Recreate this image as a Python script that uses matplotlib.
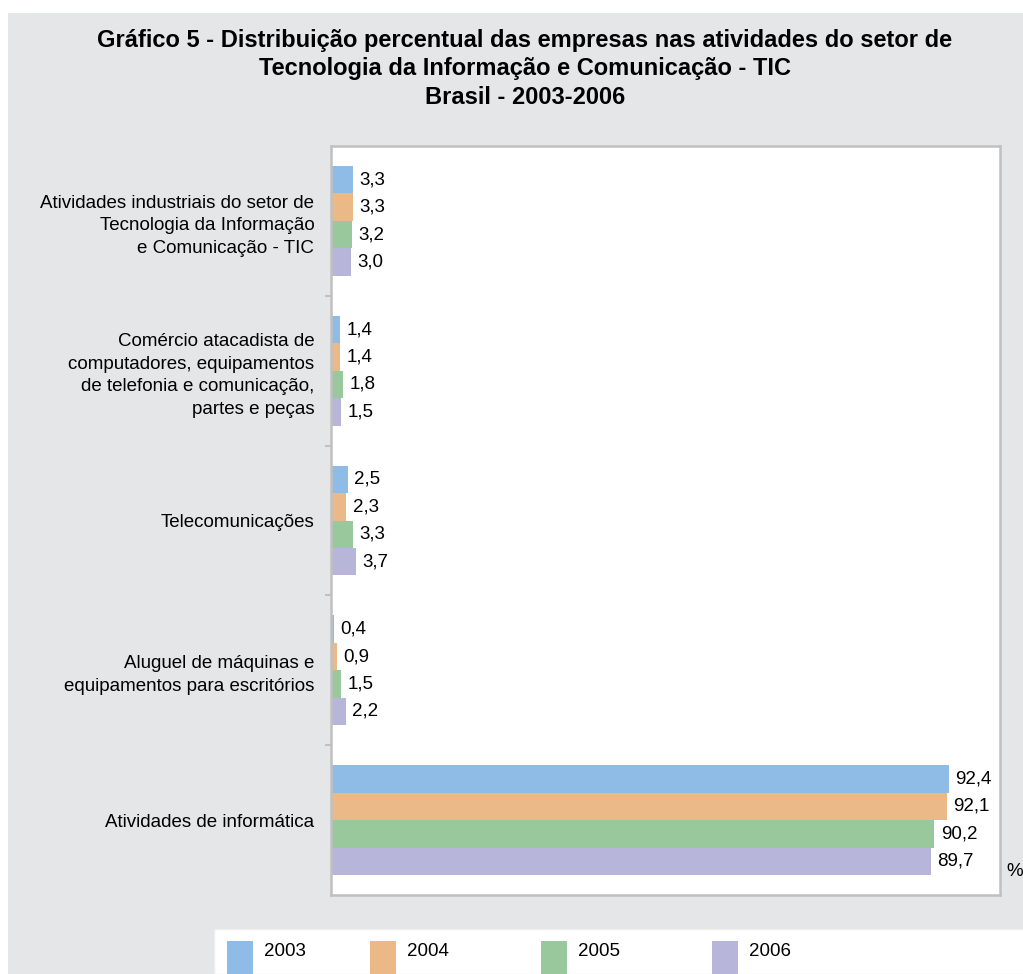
import matplotlib
matplotlib.use('Agg')
import matplotlib.pyplot as plt
from matplotlib.patches import Rectangle
import numpy as np

plt.rcParams['font.family'] = ['Liberation Sans', 'DejaVu Sans']

categorias = ['Atividades industriais do setor de\nTecnologia da Informação\ne Comunicação - TIC',
              'Comércio atacadista de\ncomputadores, equipamentos\nde telefonia e comunicação,\npartes e peças',
              'Telecomunicações',
              'Aluguel de máquinas e\nequipamentos para escritórios',
              'Atividades de informática']
anos = ['2003', '2004', '2005', '2006']
v2003 = [3.3, 1.4, 2.5, 0.4, 92.4]
v2004 = [3.3, 1.4, 2.3, 0.9, 92.1]
v2005 = [3.2, 1.8, 3.3, 1.5, 90.2]
v2006 = [3.0, 1.5, 3.7, 2.2, 89.7]
cores = ['#8fbce6', '#ebb987', '#99c89d', '#b8b5da']

series = [v2003, v2004, v2005, v2006]

fig = plt.figure(figsize=(10.23, 9.74), dpi=100)
fig.patches.append(Rectangle((8/1023, 0), 1, 1 - 13/974, transform=fig.transFigure,
                             facecolor='#e5e6e8', edgecolor='none', zorder=-10))
# caixa da legenda
fig.patches.append(Rectangle((214/1023, 0), 1, (974-929)/974, transform=fig.transFigure,
                             facecolor='white', edgecolor='#eeeeee', zorder=-5))

ax = fig.add_axes([331/1023, (974-895)/974, (1000-331)/1023, (895-146)/974])
ax.set_facecolor('white')

y = np.arange(len(categorias))
h = 0.183
for i, (vals, cor) in enumerate(zip(series, cores)):
    pos = y + (i - 1.5) * h
    ax.barh(pos, vals, height=h, color=cor, edgecolor='none')
    for p, v in zip(pos, vals):
        ax.annotate(('%.1f' % v).replace('.', ','), (v, p), xytext=(4.5, 0),
                    textcoords='offset points', va='center', ha='left', fontsize=13.5)

ax.set_ylim(4.5, -0.5)
ax.set_xlim(0, 100)
ax.set_yticks(y)
ax.set_yticklabels(categorias, fontsize=13.5, linespacing=1.42)
ax.set_yticks([0.5, 1.5, 2.5, 3.5], minor=True)
ax.tick_params(axis='y', which='major', length=0, pad=12)
ax.tick_params(axis='y', which='minor', length=4, width=1.5, color='#c0c0c0')
ax.set_xticks([])
for s in ax.spines.values():
    s.set_color('#c0c0c0')
    s.set_linewidth(1.8)

fig.text(1006/1023, 1 - 871/974, '%', fontsize=13.5, ha='left', va='center')

fig.text(525/1023, 1 - 29/974,
         'Gráfico 5 - Distribuição percentual das empresas nas atividades do setor de\n'
         'Tecnologia da Informação e Comunicação - TIC\nBrasil - 2003-2006',
         fontweight='bold', fontsize=17, ha='center', va='top', linespacing=1.3)

# legenda manual
leg_x = [227, 370, 541, 712]
for xx, ano, cor in zip(leg_x, anos, cores):
    fig.patches.append(Rectangle((xx/1023, 0), 26/1023, (974-941)/974,
                                 transform=fig.transFigure, facecolor=cor, edgecolor='none'))
    fig.text((xx + 37)/1023, 1 - 952/974, ano, fontsize=13.5, ha='left', va='center')

plt.savefig('out.png', dpi=100)
